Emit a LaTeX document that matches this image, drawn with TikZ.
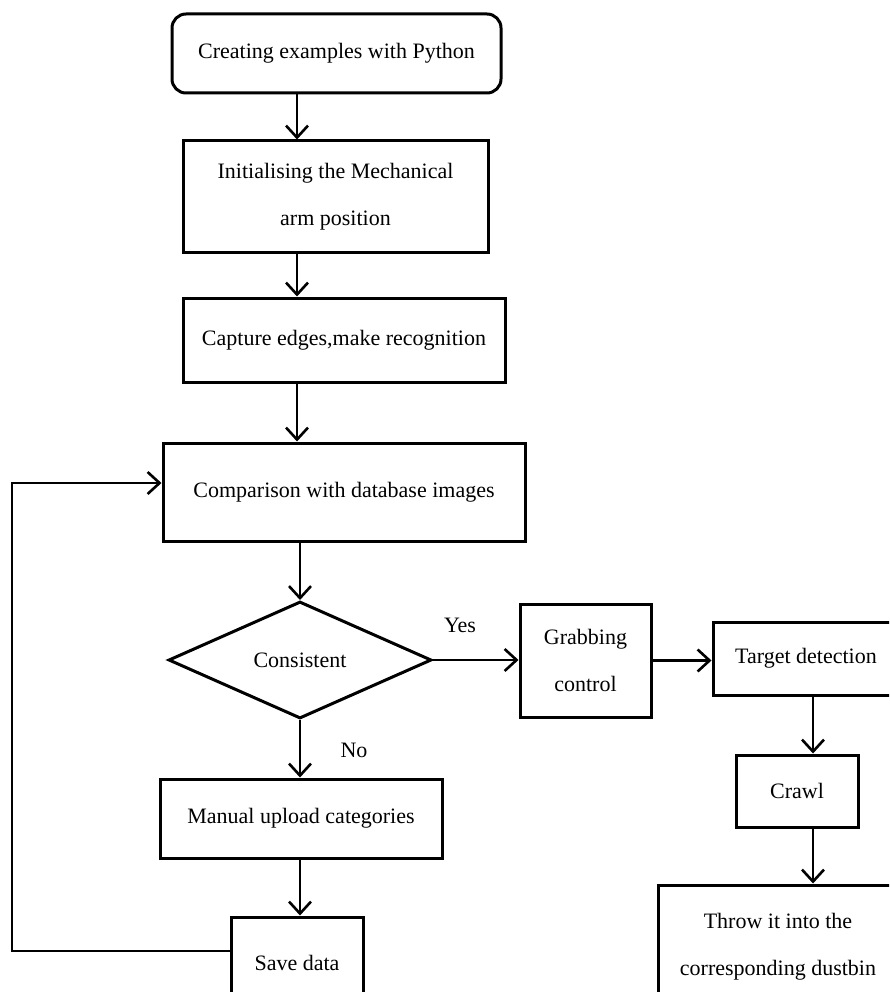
\documentclass[tikz,border=0pt]{standalone}
\usepackage{fontspec}
\setmainfont{Liberation Serif}
\usetikzlibrary{shapes.geometric,arrows.meta}
\begin{document}
\begin{tikzpicture}[x=1pt,y=-1pt,
  every node/.style={font=\fontsize{22}{47}\selectfont, inner sep=0pt, align=center},
  box/.style={draw, line width=3pt, rectangle},
  rbox/.style={box, rounded corners=14pt},
  arr/.style={line width=2.6pt, -{Straight Barb[length=12pt,width=22pt,line width=2.6pt]}},
  lbl/.style={font=\fontsize{22}{25}\selectfont}
]
\useasboundingbox (0,0) rectangle (889,992);
\clip (0,0) rectangle (889,992);
\fill[white] (0,0) rectangle (889,992);

\node[rbox, minimum width=329pt, minimum height=79pt] (start) at (336.5,53.5) {Creating examples with Python};
\node[box, minimum width=305pt, minimum height=111pt] (init) at (335.5,196.5) {Initialising the Mechanical\\arm position};
\node[box, minimum width=322pt, minimum height=84pt] (capt) at (344,340) {Capture edges,make recognition};
\node[box, minimum width=362pt, minimum height=98pt] (comp) at (344,492) {Comparison with database images};
\node[draw, line width=3pt, diamond, minimum width=263pt, minimum height=117pt, inner sep=0pt] (cons) at (300,660) {Consistent};
\node[box, minimum width=282pt, minimum height=79pt] (man) at (301,818.5) {Manual upload categories};
\node[box, minimum width=132pt, minimum height=92pt] (save) at (297,963) {Save data};
\node[box, minimum width=131pt, minimum height=113pt] (grab) at (585.5,660.5) {Grabbing\\control};
\node[box, minimum width=186pt, minimum height=73pt] (targ) at (806,658.5) {Target detection};
\node[box, minimum width=122pt, minimum height=72pt] (crawl) at (797,791) {Crawl};
\node[box, minimum width=240pt, minimum height=124pt] (throw) at (778,947) {Throw it into the\\corresponding dustbin};

\node[lbl] (yes) at (460,625) {Yes};
\node[lbl] (no) at (354,750) {No};

\coordinate (fb) at (12,483);

\draw[arr] (start.south -| 297,0) -- (init.north -| 297,0);
\draw[arr] (init.south -| 297,0) -- (capt.north -| 297,0);
\draw[arr] (capt.south -| 297,0) -- (comp.north -| 297,0);
\draw[arr] (comp.south -| cons.north) -- (cons.north);
\draw[arr] (cons.south) -- (cons.south |- man.north);
\draw[arr] (man.south -| cons.south) -- (cons.south |- save.north);
\draw[arr] ([yshift=12pt]save.west) -| (fb) -- (fb -| comp.west);
\draw[arr] (cons.east) -- (cons.east -| grab.west);
\draw[arr] (grab.east) -- (grab.east -| targ.west);
\draw[arr] (targ.south -| 813,0) -- (crawl.north -| 813,0);
\draw[arr] (crawl.south -| 813,0) -- (throw.north -| 813,0);
\end{tikzpicture}
\end{document}
